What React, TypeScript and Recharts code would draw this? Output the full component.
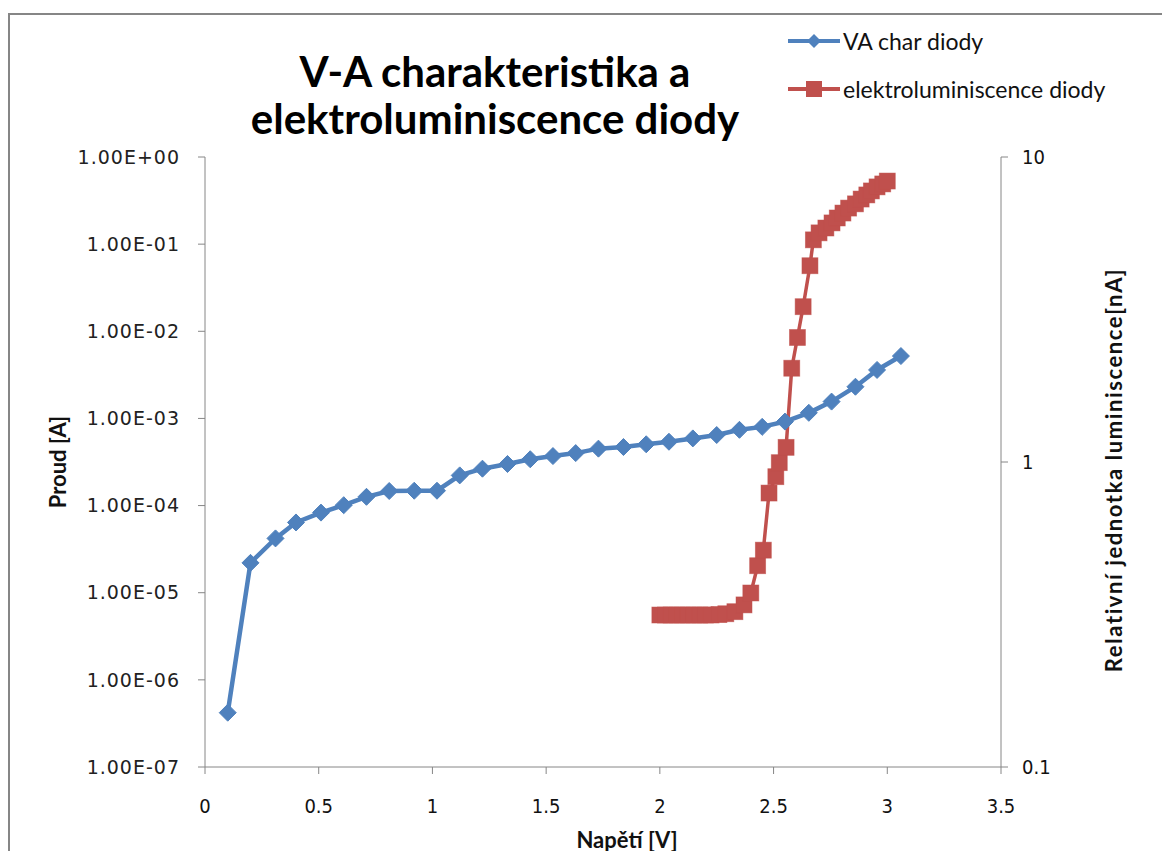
import React from 'react';
import { LineChart, Line, XAxis, YAxis, Legend, Label } from 'recharts';

// ---- Data ----
const vaVoltage = [0.10, 0.20, 0.31, 0.40, 0.51, 0.61, 0.71, 0.81, 0.92, 1.02, 1.12, 1.22, 1.33, 1.43, 1.53, 1.63, 1.73, 1.84, 1.94, 2.04, 2.145, 2.25, 2.35, 2.45, 2.55, 2.655, 2.755, 2.86, 2.955, 3.06];
const vaCurrent = [4.2e-7, 2.2e-5, 4.2e-5, 6.4e-5, 8.3e-5, 1.01e-4, 1.26e-4, 1.47e-4, 1.48e-4, 1.48e-4, 2.22e-4, 2.65e-4, 3.0e-4, 3.4e-4, 3.7e-4, 4.0e-4, 4.5e-4, 4.7e-4, 5.05e-4, 5.4e-4, 5.9e-4, 6.45e-4, 7.4e-4, 8.0e-4, 9.2e-4, 1.16e-3, 1.56e-3, 2.31e-3, 3.6e-3, 5.2e-3];

const elVoltage = [2.00, 2.025, 2.05, 2.075, 2.10, 2.125, 2.15, 2.175, 2.20, 2.225, 2.26, 2.29, 2.33, 2.37, 2.40, 2.43, 2.455, 2.48, 2.51, 2.525, 2.555, 2.58, 2.605, 2.63, 2.66, 2.675, 2.70, 2.73, 2.757, 2.78, 2.805, 2.83, 2.86, 2.885, 2.91, 2.93, 2.955, 2.98, 3.00];
const elLuminescence = [0.315, 0.315, 0.315, 0.315, 0.315, 0.315, 0.315, 0.315, 0.315, 0.315, 0.316, 0.318, 0.323, 0.34, 0.372, 0.457, 0.514, 0.791, 0.895, 0.995, 1.117, 2.03, 2.56, 3.23, 4.40, 5.35, 5.64, 5.85, 6.08, 6.31, 6.55, 6.80, 7.02, 7.28, 7.51, 7.74, 7.98, 8.16, 8.34];

const xTicks = [0, 0.5, 1, 1.5, 2, 2.5, 3, 3.5];
const leftTicks = [1e-7, 1e-6, 1e-5, 1e-4, 1e-3, 1e-2, 1e-1, 1];
const rightTicks = [0.1, 1, 10];

const seriesNames = ['VA char diody', 'elektroluminiscence diody'];
const titleLines = ['V-A charakteristika a', 'elektroluminiscence diody'];
const xTitle = 'Napětí [V]';
const yLeftTitle = 'Proud [A]';
const yRightTitle = 'Relativní jednotka luminiscence[nA]';

// ---- Styles ----
const BLUE = '#4F81BD';
const RED = '#C0504D';
const AXIS = '#868686';
const NARROW = "'Liberation Sans Narrow', 'DejaVu Sans Condensed', 'Roboto', sans-serif";
const WIDE = "'DejaVu Sans', 'Verdana', sans-serif";
const CAL = "Lato, 'Open Sans', sans-serif";

const W = 1162;
const H = 851;

const fmtExp = (v: number) => {
  const e = Math.round(Math.log10(v));
  const sign = e < 0 ? '-' : '+';
  const a = Math.abs(e);
  return `1.00E${sign}${a < 10 ? '0' + a : a}`;
};
const fmtRight = (v: number) => (v < 1 ? String(v) : String(Math.round(v)));

const Diamond = (props: any) => {
  const { cx, cy, index } = props;
  if (cx == null || cy == null) return <g key={`d${index}`} />;
  const r = 8.5;
  return (
    <path key={`d${index}`} d={`M${cx},${cy - r}L${cx + r},${cy}L${cx},${cy + r}L${cx - r},${cy}Z`} fill={BLUE} stroke={BLUE} strokeWidth={1} />
  );
};

const Square = (props: any) => {
  const { cx, cy, index } = props;
  if (cx == null || cy == null) return <g key={`s${index}`} />;
  const s = 8;
  return <rect key={`s${index}`} x={cx - s} y={cy - s} width={2 * s} height={2 * s} fill={RED} stroke={RED} strokeOpacity={0.6} strokeWidth={0.8} />;
};

const LegendContent = () => (
  <div style={{ fontFamily: CAL, fontSize: 23, color: '#111' }}>
    {seriesNames.map((name, i) => (
      <div key={name} style={{ display: 'flex', alignItems: 'center', height: 48 }}>
        <svg width={56} height={20} style={{ marginRight: 1 }}>
          <line x1={2} y1={10} x2={54} y2={10} stroke={i === 0 ? BLUE : RED} strokeWidth={4} />
          {i === 0 ? (
            <path d="M28,3L35,10L28,17L21,10Z" fill={BLUE} />
          ) : (
            <rect x={20} y={2} width={16} height={16} fill={RED} />
          )}
        </svg>
        <span style={{ whiteSpace: 'nowrap' }}>{name}</span>
      </div>
    ))}
  </div>
);

export default function App() {
  const vaData = vaVoltage.map((v, i) => ({ v, current: vaCurrent[i] }));
  const elData = elVoltage.map((v, i) => ({ v, lum: elLuminescence[i] }));

  return (
    <div style={{ position: 'relative', width: W, height: H, marginBottom: -8, overflow: 'hidden', background: '#fff' }}>
      <div style={{ position: 'absolute', left: 0, top: 5, width: 1160, height: 900, border: `2px solid ${AXIS}`, boxSizing: 'border-box' }} />
      <div style={{ position: 'absolute', left: 287, top: 40, width: 400, textAlign: 'center', fontFamily: CAL, fontWeight: 700, fontSize: 42, lineHeight: '47px', color: '#000' }}>
        {titleLines.map((t) => (
          <div key={t} style={{ whiteSpace: 'nowrap', marginLeft: -150, marginRight: -150 }}>{t}</div>
        ))}
      </div>
      <LineChart width={W} height={H} margin={{ top: 149, right: 69, bottom: 0, left: 97 }} style={{ position: 'absolute', left: 0, top: 0 }}>
        <XAxis
          type="number"
          dataKey="v"
          domain={[0, 3.5]}
          ticks={xTicks}
          height={92}
          allowDataOverflow
          stroke={AXIS}
          tickSize={7}
          tickMargin={25}
          tickLine={{ stroke: AXIS }}
          tick={{ fill: '#111', fontSize: 20, fontFamily: NARROW }}
        >
          <Label content={() => (
            <text x={619} y={831} textAnchor="middle" dominantBaseline="central" fontFamily={CAL} fontWeight={700} fontSize={22} fill="#111">{xTitle}</text>
          )} />
        </XAxis>
        <YAxis
          yAxisId="left"
          scale="log"
          domain={[1e-7, 1]}
          ticks={leftTicks}
          allowDataOverflow
          width={100}
          stroke={AXIS}
          tickSize={7}
          tickMargin={18}
          tickFormatter={fmtExp}
          tickLine={{ stroke: AXIS }}
          tick={{ fill: '#222', fontSize: 19, fontFamily: WIDE, letterSpacing: 1 }}
        >
          <Label content={() => (
            <text x={49} y={454} transform="rotate(-90 49 454)" textAnchor="middle" dominantBaseline="central" fontFamily={CAL} fontWeight={700} fontSize={22} fill="#111">{yLeftTitle}</text>
          )} />
        </YAxis>
        <YAxis
          yAxisId="right"
          orientation="right"
          scale="log"
          domain={[0.1, 10]}
          ticks={rightTicks}
          allowDataOverflow
          width={100}
          stroke={AXIS}
          tickSize={7}
          tickMargin={14}
          tickFormatter={fmtRight}
          tickLine={{ stroke: AXIS }}
          tick={{ fill: '#111', fontSize: 20, fontFamily: NARROW }}
        >
          <Label content={() => (
            <text x={1105} y={462} transform="rotate(-90 1105 462)" textAnchor="middle" dominantBaseline="central" fontFamily={CAL} fontWeight={700} fontSize={22} letterSpacing={1.6} fill="#111">{yRightTitle}</text>
          )} />
        </YAxis>
        <Legend
          layout="vertical"
          align="center"
          verticalAlign="middle"
          content={LegendContent}
          wrapperStyle={{ left: 778, top: 9, width: 380 }}
        />
        <Line
          yAxisId="left"
          data={vaData}
          dataKey="current"
          name={seriesNames[0]}
          stroke={BLUE}
          strokeWidth={4.5}
          dot={Diamond}
          activeDot={false}
          isAnimationActive={false}
          legendType="diamond"
        />
        <Line
          yAxisId="right"
          data={elData}
          dataKey="lum"
          name={seriesNames[1]}
          stroke={RED}
          strokeWidth={3.5}
          dot={Square}
          activeDot={false}
          isAnimationActive={false}
          legendType="square"
        />
      </LineChart>
    </div>
  );
}
